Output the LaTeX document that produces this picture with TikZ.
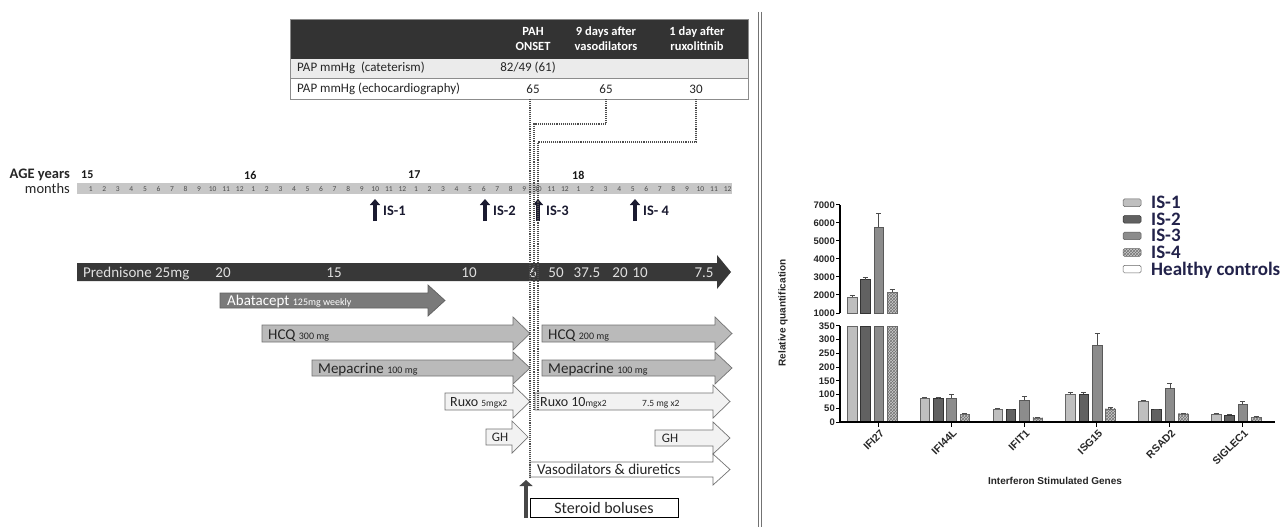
\documentclass[tikz,border=0pt]{standalone}
\usepackage{fontspec}
\setmainfont{Carlito}
\newfontfamily\chartfont{Liberation Sans}
\usetikzlibrary{arrows.meta,patterns}
\newcommand\fsz[2]{\fontsize{#1}{#2}\selectfont}
% #1 style, #2 left x, #3 top y, #4 bottom y, #5 shaft end x, #6 tip x
\newcommand\drugshape[6]{\path[#1] (#2,#3) -- (#5,#3) -- (#5,#3-8) -- (#6,{(#3+#4)/2}) -- (#5,#4+8) -- (#5,#4) -- (#2,#4) -- cycle;}
% #1 x, #2 value, #3 error top, #4 style
\newcommand\lowbar[4]{%
  \draw[#4] (#1-4.8,422) rectangle (#1+4.8,{422-#2*0.2743});
  \draw[errb] (#1,{422-#2*0.2743}) -- (#1,{422-#3*0.2743}) (#1-2.5,{422-#3*0.2743}) -- (#1+2.5,{422-#3*0.2743});}
\newcommand\highbar[4]{%
  \draw[#4] (#1-4.8,422) rectangle (#1+4.8,326);
  \draw[#4] (#1-4.8,313) rectangle (#1+4.8,{313-(#2-1000)*0.018});
  \draw[errb] (#1,{313-(#2-1000)*0.018}) -- (#1,{313-(#3-1000)*0.018}) (#1-2.5,{313-(#3-1000)*0.018}) -- (#1+2.5,{313-(#3-1000)*0.018});}
\definecolor{isnavy}{HTML}{1A1A30}
\definecolor{legnavy}{HTML}{22224A}
\begin{document}
\begin{tikzpicture}[x=1pt,y=-1pt,
  tbl/.style={font=\fsz{13}{15}, text=black!85, inner sep=0pt},
  hdr/.style={font=\bfseries\fsz{12.5}{15}, text=white, align=center, inner sep=0pt},
  mon/.style={font=\fsz{7.5}{8}, text=black!70, inner sep=0pt},
  yr/.style={font=\bfseries\fsz{12}{14}, text=black!90, inner sep=0pt, anchor=west},
  agetxt/.style={font=\fsz{14.5}{16}, text=black!85, inner sep=0pt, anchor=east},
  islab/.style={font=\bfseries\fsz{14.5}{16}, text=isnavy, anchor=west, inner sep=0pt},
  isarrow/.style={line width=3.8pt, draw=isnavy, -{Triangle[length=6pt,width=10pt]}},
  steroidarrow/.style={line width=4.5pt, draw=black!72, -{Triangle[length=6pt,width=13pt]}},
  pred/.style={fill=black!78},
  predtxt/.style={font=\fsz{15}{17}, text=black!12, inner sep=0pt, anchor=base},
  abat/.style={fill=black!52, draw=black!62, line width=0.7pt},
  midg/.style={fill=black!27, draw=black!55, line width=0.7pt},
  lightg/.style={fill=black!5, draw=black!55, line width=0.7pt},
  whiteg/.style={fill=white, draw=black!55, line width=0.7pt},
  drugtxt/.style={font=\fsz{15}{17}, text=black!85, anchor=base west, inner sep=0pt},
  dotline/.style={densely dotted, line width=1.1pt, draw=black!70},
  ax/.style={line width=1.3pt, draw=black},
  ytick/.style={font=\chartfont\bfseries\fsz{9.5}{11}, anchor=east, inner sep=0pt, text=black!85},
  xtick/.style={font=\chartfont\bfseries\fsz{10.5}{12}, anchor=north east, rotate=45, inner sep=0pt, text=black!85},
  atitle/.style={font=\chartfont\bfseries\fsz{10}{12}, inner sep=0pt, text=black!85},
  legtxt/.style={font=\bfseries\fsz{19}{20}, text=legnavy, anchor=base west, inner sep=0pt},
  b1/.style={fill=black!25, draw=black!60, line width=0.5pt},
  b2/.style={fill=black!62, draw=black!80, line width=0.5pt},
  b3/.style={fill=black!45, draw=black!65, line width=0.5pt},
  b4/.style={fill=black!20, draw=black!60, line width=0.5pt, postaction={pattern=crosshatch, pattern color=black!55}},
  b5/.style={fill=white, draw=black!60, line width=0.5pt},
  errb/.style={line width=0.6pt, draw=black!70}]
\useasboundingbox (0,0) rectangle (1287,527);
\fill[white] (0,0) rectangle (1287,527);

% ---------- table ----------
\fill[black!80] (290,19) rectangle (748,59);
\fill[black!8] (290,59) rectangle (748,78);
\draw[black!45, line width=0.6pt] (290,78) -- (748,78);
\draw[black!45, line width=0.9pt] (290,19) rectangle (748,99);
\node[hdr] (h1) at (533,39) {PAH\\ONSET};
\node[hdr] (h2) at (606,39) {9 days after\\vasodilators};
\node[hdr] (h3) at (697,39) {1 day after\\ruxolitinib};
\node[tbl, anchor=west] (r1) at (297,68) {PAP mmHg\ \ (cateterism)};
\node[tbl] (r1v) at (528,68) {82/49 (61)};
\node[tbl, anchor=west] (r2) at (297,89) {PAP mmHg (echocardiography)};
\node[tbl] (r2a) at (533,89) {65};
\node[tbl] (r2b) at (606,89) {65};
\node[tbl] (r2c) at (696,89) {30};

% separator
\draw[black!55, line width=0.8pt] (758,12) -- (758,527);
\draw[black!55, line width=0.8pt] (761.5,12) -- (761.5,527);

% ---------- timeline ----------
\node[agetxt, font=\bfseries\fsz{14.5}{16}] (agey) at (70,175) {AGE years};
\node[agetxt] (months) at (70,188.5) {months};
\fill[black!22] (77,183) rectangle (732,194);
\foreach \i in {0,...,47}{
  \pgfmathtruncatemacro\m{mod(\i,12)+1}
  \node[mon] (m\i) at (90.7+13.55*\i,188.8) {\m};
}
\node[yr] (y15) at (81,175) {15};
\node[yr] (y16) at (244,175) {16};
\node[yr] (y17) at (408,175) {17};
\node[yr] (y18) at (572,175) {18};

% IS markers
\foreach \n/\x/\t in {1/375/IS-1, 2/485/IS-2, 3/538/IS-3, 4/635/{IS- 4}}{
  \coordinate (isb\n) at (\x,221);
  \coordinate (ist\n) at (\x,199);
  \draw[isarrow] (isb\n) -- (ist\n);
  \node[islab] (isl\n) at (\x+8,211) {\t};
}

% ---------- treatments ----------
\drugshape{pred}{77}{263}{281}{717}{731}
\node[predtxt, anchor=base west] (p0) at (83,277.5) {Prednisone 25mg};
\node[predtxt] (p1) at (223,277.5) {20};
\node[predtxt] (p2) at (334,277.5) {15};
\node[predtxt] (p3) at (469,277.5) {10};
\node[predtxt] (p4) at (533,277.5) {6};
\node[predtxt] (p5) at (556,277.5) {50};
\node[predtxt] (p6) at (587,277.5) {37.5};
\node[predtxt] (p7) at (620,277.5) {20};
\node[predtxt] (p8) at (640,277.5) {10};
\node[predtxt] (p9) at (704,277.5) {7.5};

\drugshape{abat}{220}{293}{308}{428}{445}
\node[drugtxt, text=white] (abat) at (227,305.5) {Abatacept {\fsz{10}{12}125mg weekly}};

\drugshape{midg}{262}{325}{342}{513}{530}
\node[drugtxt] (hcq1) at (268,339) {HCQ {\fsz{10}{12}300 mg}};
\drugshape{midg}{542}{325}{342}{715}{732}
\node[drugtxt] (hcq2) at (548,339) {HCQ {\fsz{10}{12}200 mg}};

\drugshape{midg}{312}{360}{376}{513}{530}
\node[drugtxt] (mep1) at (318,373.5) {Mepacrine {\fsz{10}{12}100 mg}};
\drugshape{midg}{542}{360}{376}{715}{732}
\node[drugtxt] (mep2) at (548,373.5) {Mepacrine {\fsz{10}{12}100 mg}};

\drugshape{lightg}{445}{393}{410}{513}{530}
\node[drugtxt, font=\fsz{14}{16}] (rux1) at (450,406.5) {Ruxo {\fsz{9.5}{11}5mgx2}};
\drugshape{lightg}{535}{393}{410}{713}{730}
\node[drugtxt, font=\fsz{14}{16}] (rux2) at (540,406.5) {Ruxo 10{\fsz{9.5}{11}mgx2}};
\node[drugtxt, font=\fsz{9.5}{11}] (rux3) at (642,406.5) {7.5 mg x2};

\drugshape{lightg}{486}{429}{445}{512}{528}
\node[drugtxt, anchor=base, font=\fsz{13}{15}] (gh1) at (500,441.5) {GH};
\drugshape{lightg}{655}{430}{446}{713}{730}
\node[drugtxt, anchor=base, font=\fsz{13}{15}] (gh2) at (670,442.5) {GH};

\drugshape{whiteg}{530}{462}{477}{713}{730}
\node[drugtxt, font=\fsz{15}{17}] (vaso) at (537,474.5) {Vasodilators \& diuretics};

\node[draw=black, line width=0.9pt, fill=white, minimum width=148pt, minimum height=19pt, inner sep=0pt, anchor=north west] (ster) at (530,498) {};
\node[drugtxt, anchor=base, font=\fsz{16}{18}] (stertxt) at (604,513) {Steroid boluses};
\coordinate (sab) at (526,518);
\coordinate (sat) at (526,480);
\draw[steroidarrow] (sab) -- (sat);

% ---------- dotted guide lines ----------
\coordinate (g1a) at (530,99);  \coordinate (g1b) at (530,478);
\coordinate (g2a) at (606,99);  \coordinate (g2m) at (534,124); \coordinate (g2b) at (534,410);
\coordinate (g3a) at (696,99);  \coordinate (g3m) at (538,142); \coordinate (g3b) at (538,410);
\draw[dotline] (g1a) -- (g1b);
\draw[dotline] (g2a) |- (g2m) -- (g2b);
\draw[dotline] (g3a) |- (g3m) -- (g3b);

% ---------- bar chart ----------
\highbar{852}{1900}{1960}{b1}
\highbar{865.3}{2850}{2960}{b2}
\highbar{878.7}{5750}{6550}{b3}
\highbar{892}{2150}{2300}{b4}
\foreach \k/\va/\ea/\vb/\eb/\vc/\ec/\vd/\ed in {1/88/91/85/89/88/100/28/32, 2/48/51/45/47/80/95/15/17, 3/103/107/103/107/280/322/48/52, 4/77/80/45/47/122/140/30/33, 5/30/33/26/28/64/74/17/19}{
  \pgfmathsetmacro\cx{872+72.8*\k}
  \lowbar{\cx-20}{\va}{\ea}{b1}
  \lowbar{\cx-6.7}{\vb}{\eb}{b2}
  \lowbar{\cx+6.7}{\vc}{\ec}{b3}
  \lowbar{\cx+20}{\vd}{\ed}{b4}
}
\draw[ax] (840,205) -- (840,313);
\draw[ax] (840,326) -- (840,422.6);
\draw[ax] (839.4,422) -- (1275,422);
\foreach \v in {1000,2000,...,7000}{
  \pgfmathsetmacro\yy{313-(\v-1000)*0.018}
  \draw[line width=1pt] (836,\yy) -- (840,\yy);
  \node[ytick] (yu\v) at (835,\yy) {\v};
}
\foreach \v in {0,50,...,350}{
  \pgfmathsetmacro\yy{422-\v*0.2743}
  \draw[line width=1pt] (836,\yy) -- (840,\yy);
  \node[ytick] (yl\v) at (835,\yy) {\v};
}
\foreach \k/\g in {0/IFI27, 1/IFI44L, 2/IFIT1, 3/ISG15, 4/RSAD2, 5/SIGLEC1}{
  \pgfmathsetmacro\tx{878.5+72.8*\k}
  \draw[line width=1pt] (\tx,422) -- (\tx,427);
  \node[xtick] (gt\k) at (\tx+1,428.5) {\g};
}
\node[atitle, rotate=90] (ytitle) at (783,313) {Relative quantification};
\node[atitle] (xtitle) at (1055,481) {Interferon Stimulated Genes};

% legend
\foreach \i/\s/\t in {0/b1/IS-1, 1/b2/IS-2, 2/b3/IS-3, 3/b4/IS-4, 4/b5/Healthy controls}{
  \pgfmathsetmacro\ly{202.7+16.6*\i}
  \draw[\s, rounded corners=1.5pt] (1123,\ly-3.8) rectangle (1141,\ly+3.8);
  \node[legtxt] (leg\i) at (1151,\ly+6) {\t};
}
\end{tikzpicture}
\end{document}
